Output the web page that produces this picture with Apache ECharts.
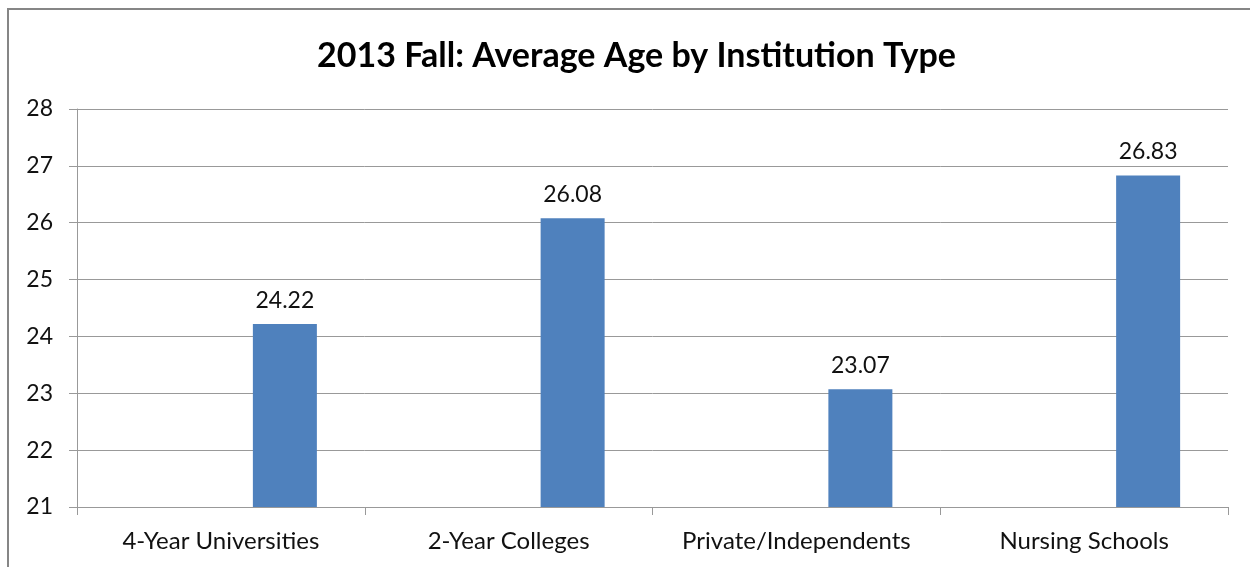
<!DOCTYPE html>
<html><head><meta charset="utf-8">
<script src="https://cdn.jsdelivr.net/npm/echarts@6/dist/echarts.min.js"></script>
<style>html,body{margin:0;padding:0;background:#fff}#c{width:1250px;height:567px}</style>
</head><body><div id="c"></div>
<script>
const categories = ["4-Year Universities", "2-Year Colleges", "Private/Independents", "Nursing Schools"];
const averageAge = [24.22, 26.08, 23.07, 26.83];
const emptySeries = [null, null, null, null];
const yMin = 21, yMax = 28, yStep = 1;
const titleText = "2013 Fall: Average Age by Institution Type";

const FONT = "Lato";
const chart = echarts.init(document.getElementById('c'), null, {renderer: 'canvas'});
chart.setOption({
  animation: false,
  backgroundColor: '#fff',
  title: {
    text: titleText, left: 312, top: 34,
    textStyle: {fontFamily: FONT, fontWeight: 'bold', fontSize: 34, color: '#000'}
  },
  graphic: [{
    type: 'rect', shape: {x: 8, y: 9, width: 1260, height: 580},
    style: {fill: 'none', stroke: '#868686', lineWidth: 2}, silent: true
  }],
  grid: {left: 77, right: 22, top: 109, bottom: 60, containLabel: false},
  xAxis: {
    type: 'category', data: categories,
    axisLine: {lineStyle: {color: '#999', width: 1}},
    axisTick: {show: true, interval: 0, length: 8, lineStyle: {color: '#999'}},
    axisLabel: {interval: 0, margin: 22, fontFamily: FONT, fontSize: 24, color: '#111'}
  },
  yAxis: {
    type: 'value', min: yMin, max: yMax, interval: yStep,
    axisLine: {show: true, lineStyle: {color: '#999', width: 1}},
    axisTick: {show: true, length: 8, lineStyle: {color: '#999'}},
    splitLine: {lineStyle: {color: '#999', width: 1}},
    axisLabel: {margin: 24, fontFamily: FONT, fontSize: 23, color: '#111'}
  },
  series: [
    {type: 'bar', data: emptySeries, barWidth: 64, barGap: '100%'},
    {type: 'bar', data: averageAge, barWidth: 64, barGap: '100%',
     itemStyle: {color: '#4F81BD'},
     label: {show: true, position: 'top', distance: 12, fontFamily: FONT, fontSize: 23, color: '#111',
             formatter: p => p.value.toFixed(2)}}
  ]
});
</script></body></html>
